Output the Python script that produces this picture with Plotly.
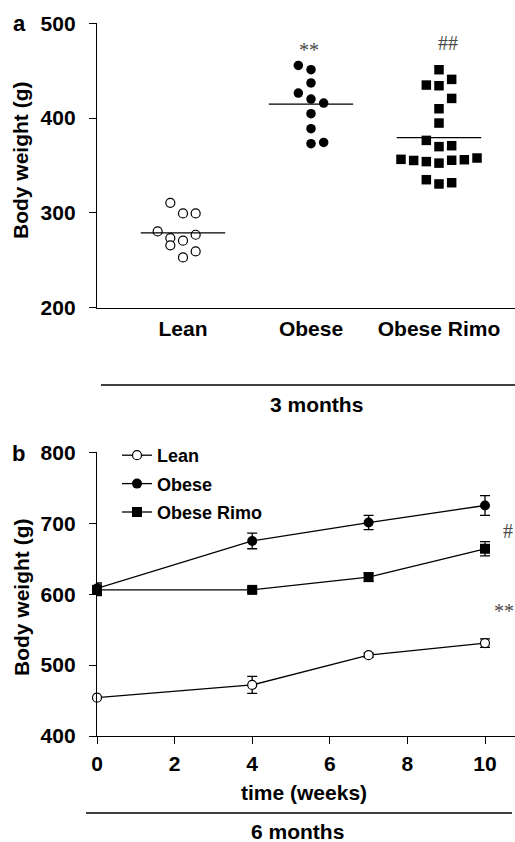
import numpy as np
import plotly.graph_objects as go

W, H = 515, 842

# ---------------- data: panel a (3 months) ----------------
groups = ["Lean", "Obese", "Obese Rimo"]
lean_bw = [310.5, 299.3, 299.3, 280.3, 276.8, 273.3, 270.5, 265.6, 259.2, 252.9]
obese_bw = [455.5, 451.0, 437.0, 426.4, 420.0, 415.8, 404.6, 388.8, 372.9, 374.3]
rimo_bw = [451.0, 440.8, 434.8, 434.1, 420.7, 409.8, 394.7, 376.4, 369.8, 370.8,
           356.4, 355.2, 354.0, 352.4, 355.4, 356.0, 357.8, 334.9, 330.4, 331.7]
# dot-plot column slot of each animal (layout of the scatter)
lean_slot = [-1, 0, 1, -2, 1, -1, 0, -1, 1, 0]
obese_slot = [-1, 0, 0, -1, 0, 1, 0, 0, 0, 1]
rimo_slot = [0, 1, -1, 0, 1, 0, 0, -1, 0, 1, -3, -2, -1, 0, 1, 2, 3, -1, 0, 1]
ya_ticks = [200, 300, 400, 500]

# ---------------- data: panel b (6 months) ----------------
weeks = [0, 4, 7, 10]
lean_mean = [454, 472, 514, 531]
lean_sem = [0, 12, 3, 6]
obese_mean = [608, 675, 701, 725]
obese_sem = [8, 11, 10, 14]
rimo_mean = [606, 606, 624, 664]
rimo_sem = [8, 3, 6, 10]
yb_ticks = [400, 500, 600, 700, 800]
xb_ticks = [0, 2, 4, 6, 8, 10]

# ---------------- helpers (window pixels -> paper) ----------------
def px(x):
    return x / W


def py(y):
    return 1 - y / H


FONT = "Liberation Sans, Arial, Helvetica, sans-serif"
SERIF = "Liberation Serif, Times New Roman, serif"
BOLD = dict(family=FONT, size=21, color="black", weight="bold")
LEG = dict(family=FONT, size=18, color="black", weight="bold")
SLOT = 0.099
LW = 1.3

fig = go.Figure()

# ---------------- panel a ----------------
grp_vals = [lean_bw, obese_bw, rimo_bw]
grp_slots = [lean_slot, obese_slot, rimo_slot]
grp_marker = [
    dict(symbol="circle", size=9, color="white", line=dict(color="black", width=1.2)),
    dict(symbol="circle", size=9.5, color="black", line=dict(color="black", width=0)),
    dict(symbol="square", size=9.5, color="black", line=dict(color="black", width=0)),
]
for i, (vals, slots, mk) in enumerate(zip(grp_vals, grp_slots, grp_marker)):
    fig.add_trace(go.Scatter(
        x=[i + s * SLOT for s in slots], y=vals, mode="markers", marker=mk,
        xaxis="x", yaxis="y", showlegend=False, cliponaxis=False, hoverinfo="y"))
    m = float(np.mean(vals))
    fig.add_trace(go.Scatter(
        x=[i - 0.33, i + 0.33], y=[m, m], mode="lines",
        line=dict(color="black", width=LW), xaxis="x", yaxis="y",
        showlegend=False, hoverinfo="skip", cliponaxis=False))

# ---------------- panel b ----------------
series = [
    ("Lean", lean_mean, lean_sem,
     dict(symbol="circle", size=9, color="white", line=dict(color="black", width=1.2))),
    ("Obese", obese_mean, obese_sem,
     dict(symbol="circle", size=10, color="black", line=dict(color="black", width=0))),
    ("Obese Rimo", rimo_mean, rimo_sem,
     dict(symbol="square", size=10, color="black", line=dict(color="black", width=0))),
]
for name, mean, sem, mk in series:
    fig.add_trace(go.Scatter(
        x=weeks, y=mean, name=name, legendgroup=name, mode="lines+markers",
        line=dict(color="black", width=LW), marker=mk,
        error_y=dict(type="data", array=sem, visible=True, color="black",
                     thickness=LW, width=5),
        xaxis="x2", yaxis="y2", cliponaxis=False))

axis_common = dict(showgrid=False, zeroline=False, showline=True, linecolor="black",
                   linewidth=LW, tickcolor="black", tickwidth=LW, ticklen=7,
                   tickfont=BOLD, automargin=False)

fig.update_layout(
    width=W, height=H, margin=dict(l=0, r=0, t=0, b=0, pad=0, autoexpand=False),
    paper_bgcolor="white", plot_bgcolor="white",
    xaxis=dict(axis_common, domain=[px(97), 1], range=[(97 - 183) / 128, (515 - 183) / 128],
               tickvals=[0, 1, 2], ticktext=groups, ticks="", ticklabelstandoff=2,
               anchor="y"),
    yaxis=dict(axis_common, domain=[py(307.5), py(23.3)], range=[200, 500],
               tickvals=ya_ticks, ticks="outside", ticklabelstandoff=9, anchor="x"),
    xaxis2=dict(axis_common, domain=[px(97), 1], range=[0, (515 - 97) / 38.8],
                tickvals=xb_ticks, ticks="outside", ticklabelstandoff=2, anchor="y2"),
    yaxis2=dict(axis_common, domain=[py(736), py(452.3)], range=[400, 800],
                tickvals=yb_ticks, ticks="outside", ticklabelstandoff=9, anchor="x2"),
    legend=dict(x=px(117), y=py(437), xanchor="left", yanchor="top",
                font=LEG, bgcolor="rgba(0,0,0,0)", borderwidth=0,
                itemclick=False, tracegroupgap=2),
    showlegend=True,
)

shapes = [
    dict(type="line", xref="paper", yref="paper", x0=px(101), x1=px(515),
         y0=py(385), y1=py(385), line=dict(color="black", width=LW)),
    dict(type="line", xref="paper", yref="paper", x0=px(86), x1=px(512),
         y0=py(813), y1=py(813), line=dict(color="black", width=LW)),
]
fig.update_layout(shapes=shapes)


def ann(text, x, y, font, angle=0):
    return dict(text=text, x=px(x), y=py(y), xref="paper", yref="paper",
                showarrow=False, xanchor="center", yanchor="middle",
                font=font, textangle=angle)


STAR = dict(family=SERIF, size=20, color="#4a4a4a")
annotations = [
    ann("a", 19, 24, dict(BOLD, size=22)),
    ann("b", 18, 453, dict(BOLD, size=22)),
    ann("Body weight (g)", 21, 161, BOLD, -90),
    ann("Body weight (g)", 21, 598, BOLD, -90),
    ann("3 months", 316, 405, BOLD),
    ann("6 months", 297, 831, BOLD),
    ann("time (weeks)", 304, 792, BOLD),
    ann("**", 309, 50, STAR),
    ann("##", 448, 43, STAR),
    ann("#", 508, 531, STAR),
    ann("**", 504, 611, STAR),
]
fig.update_layout(annotations=annotations)

# remove the browser's default 8 px body margin so the figure fills the window
fig.write_html("out.html",
               config={"displayModeBar": False},
               post_script="document.body.style.margin='0';"
                           "document.body.style.overflow='hidden';")
